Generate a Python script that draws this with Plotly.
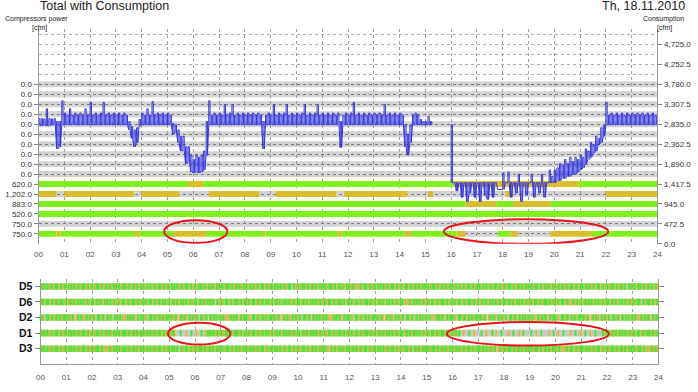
import plotly.graph_objects as go

# ---------------- data ----------------
hours = list(range(25))
hour_labels = [f"{h:02d}" for h in hours]

# top panel: compressor rows (bottom -> top), labels on left axis
row_step = 236.25
row_labels = ["750.0", "750.0", "520.0", "883.0", "1,202.0", "620.0",
              "0.0", "0.0", "0.0", "0.0", "0.0", "0.0", "0.0", "0.0", "0.0", "0.0"]
# base state of each row: G = running (green), Y = partial (yellow), - = off (gray)
row_base = ["G", "-", "G", "G", "-", "G", "-", "-", "-", "-", "-", "-", "-", "-", "-", "-"]
row1_segments = [(0.7, 0.85, "Y"), (3.7, 3.9, "Y"), (5.2, 6.5, "Y"), (8.7, 8.8, "Y"),
                 (11.6, 11.75, "Y"), (14.2, 14.45, "Y"), (16.2, 16.55, "Y"),
                 (16.55, 17.8, "-"), (18.3, 18.6, "Y"), (18.6, 19.85, "-"), (19.85, 21.45, "Y")]
row2_segments = []
row3_segments = []
row4_segments = [(16.55, 17.75, "Y"), (18.4, 19.85, "Y")]
row5_segments = [(0.0, 0.7, "Y"), (1.0, 3.7, "Y"), (4.0, 5.45, "Y"), (6.6, 8.55, "Y"),
                 (9.2, 11.55, "Y"), (11.85, 14.3, "Y"), (15.1, 15.3, "Y"), (18.1, 18.4, "Y"),
                 (22.0, 24.0, "Y")]
row6_segments = [(5.8, 6.4, "Y"), (16.1, 20.95, "Y")]
row_segments = [row1_segments, row2_segments, row3_segments, row4_segments,
                row5_segments, row6_segments] + [[] for _ in range(10)]

# right axis ticks (consumption, cfm)
right_ticks = [0, 472.5, 945, 1417.5, 1890, 2362.5, 2835, 3307.5, 3780, 4252.5, 4725]
right_labels = ["0.0", "472.5", "945.0", "1,417.5", "1,890.0", "2,362.5", "2,835.0",
                "3,307.5", "3,780.0", "4,252.5", "4,725.0"]

# consumption (cfm): max and min reading in each 0.1 h interval
consumption_high = [
    [2970, 2970, 2960, 3200, 2970, 2960, 2970, 2900, 2900, 3390],   # 00
    [3100, 3050, 3200, 3050, 3100, 3050, 3100, 3050, 3200, 3050],   # 01
    [3350, 3050, 3100, 3050, 3100, 3350, 3050, 3100, 3050, 3100],   # 02
    [3050, 3100, 3050, 3100, 3050, 2900, 2780, 2700, 2750, 2950],   # 03
    [3100, 3050, 3200, 3050, 3370, 3050, 3100, 3050, 3100, 3050],   # 04
    [3100, 3050, 2850, 2820, 2700, 2550, 2550, 2300, 2300, 2100],   # 05
    [2000, 2100, 2050, 2100, 2200, 2900, 3390, 3050, 3100, 3050],   # 06
    [3100, 3050, 3300, 3050, 3100, 3300, 3050, 3100, 3050, 3100],   # 07
    [3050, 3100, 3050, 3100, 3050, 3100, 3050, 2900, 3050, 3100],   # 08
    [3050, 3300, 3050, 3100, 3050, 3100, 3300, 3050, 3100, 3050],   # 09
    [3100, 3050, 3100, 3300, 3050, 3100, 3050, 3100, 3300, 3050],   # 10
    [3100, 3050, 3100, 3050, 3100, 3050, 3100, 2900, 3050, 3100],   # 11
    [3050, 3100, 3350, 3050, 3100, 3050, 3100, 3050, 3100, 3050],   # 12
    [3100, 3050, 3100, 3050, 3300, 3050, 3100, 3050, 3100, 3050],   # 13
    [3100, 3050, 2820, 2600, 2820, 3050, 3100, 3050, 2950, 2900],   # 14
    [2900, 3020, 2900, None, None, None, None, None, None, None],   # 15
    [2820, 1450, 1450, 1450, 1450, 1450, 1450, 1450, 1450, 1450],   # 16
    [1450, 1450, 1450, 1450, 1450, 1450, 1450, 1450, 1290, 1290],   # 17
    [1680, 1450, 1700, 1450, 1450, 1450, 1650, 1450, 1450, 1450],   # 18
    [1450, 1650, 1450, 1450, 1450, 1650, 1450, 1450, 1750, 1600],   # 19
    [1750, 1800, 1900, 1850, 2000, 1900, 2050, 1950, 2050, 2000],   # 20
    [2100, 2050, 2250, 2200, 2400, 2350, 2550, 2500, 2750, 2800],   # 21
    [3350, 3050, 3100, 3050, 3100, 3050, 3100, 3050, 3100, 3050],   # 22
    [3100, 3050, 3100, 3050, 3100, 3050, 3100, 3050, 3100, 3050],   # 23
]
consumption_low = [
    [2800, 2800, 2810, 2800, 2800, 2820, 2820, 2250, 2300, 2820],   # 00
    [2820, 2820, 2820, 2820, 2820, 2820, 2820, 2820, 2820, 2820],   # 01
    [2820, 2820, 2820, 2820, 2820, 2820, 2820, 2820, 2820, 2820],   # 02
    [2820, 2820, 2820, 2820, 2820, 2700, 2500, 2300, 2400, 2800],   # 03
    [2820, 2820, 2820, 2820, 2820, 2820, 2820, 2820, 2820, 2820],   # 04
    [2820, 2820, 2600, 2650, 2400, 2200, 2200, 1900, 1950, 1700],   # 05
    [1680, 1700, 1680, 1700, 1750, 2100, 2820, 2820, 2820, 2820],   # 06
    [2820, 2820, 2820, 2820, 2820, 2820, 2820, 2820, 2820, 2820],   # 07
    [2820, 2820, 2820, 2820, 2820, 2820, 2820, 2250, 2820, 2820],   # 08
    [2820, 2820, 2820, 2820, 2820, 2820, 2820, 2820, 2820, 2820],   # 09
    [2820, 2820, 2820, 2820, 2820, 2820, 2820, 2820, 2820, 2820],   # 10
    [2820, 2820, 2820, 2820, 2820, 2820, 2820, 2280, 2820, 2820],   # 11
    [2820, 2820, 2820, 2820, 2820, 2820, 2820, 2820, 2820, 2820],   # 12
    [2820, 2820, 2820, 2820, 2820, 2820, 2820, 2820, 2820, 2820],   # 13
    [2820, 2820, 2300, 2100, 2400, 2820, 2820, 2820, 2820, 2820],   # 14
    [2820, 2820, 2820, None, None, None, None, None, None, None],   # 15
    [1450, 1450, 1250, 1450, 1100, 1450, 1000, 1200, 1450, 1100],   # 16
    [1450, 1000, 1450, 1150, 1050, 1450, 1100, 1450, 1290, 1290],   # 17
    [1290, 1450, 1450, 1100, 1450, 1200, 1450, 1000, 1450, 1150],   # 18
    [1450, 1450, 1100, 1450, 1200, 1450, 1100, 1450, 1450, 1450],   # 19
    [1450, 1500, 1500, 1550, 1550, 1600, 1600, 1650, 1650, 1700],   # 20
    [1750, 1800, 1900, 2000, 2050, 2150, 2200, 2350, 2400, 2550],   # 21
    [2820, 2820, 2820, 2820, 2820, 2820, 2820, 2820, 2820, 2820],   # 22
    [2820, 2820, 2820, 2820, 2820, 2820, 2820, 2820, 2820, 2820],   # 23
]
consumption_end = 3100

# bottom panel: compressor state per 3-minute slot (20 per hour)
unit_names = ["D3", "D1", "D2", "D6", "D5"]   # bottom -> top
d5_states = ["GYYGYGYYGYYGYGYYGYYG", "YGYYGYGYYGYYGYGYYGYY", "GYYGYGYYGYYGYGYYGYYG", "YGYYGYGYYGY-GYGYYGYY",
             "GYYGYGYYGYYGYGYYGYYG", "YGYYGYGYYGYYGYGYYGYY", "GYYGYGY-GYYGYGYYGYYG", "YGYYGYGYYGYYGYGYYGYY",
             "GYYGYGYYGYYGYGYYGYYG", "YGYYGYGYYGYYGYG-YGYY", "GYYGYGYYGYYGYGYYGYYG", "YGYYGYGYYGYYGYGYYGYY",
             "GYYGY-YYGYYGYGYYGYYG", "YGYYGYGYYGYYGYGYYGYY", "GYYGYGYYGYYGYGYYGYYG", "YGYYGYGYYGYYGYGYYGYY",
             "GYYGYGYYGYYG-GYYGYYG", "YGYYGYGYYGYYGYGYYGYY", "GYYGYGYYGYYGYGYYGYYG", "YGYYGYG-YGYYGYGYYGYY",
             "GYYGYGYYGYYGYGYYGYYG", "YGYYGYGYYGYYGYGYYGYY", "GYYGYGYYGYYGYGY-GYYG", "YGYYGYGYYGYYGYGYYGYY"]
d6_states = ["YGYYGYGYYGYYGYGYYGYY", "GYYGYGYYGY-GYGYYGYYG", "YGYYGYGYYGYYGYGYYGYY", "GYYGYGYYGYYGYGYYGYYG",
             "YGYYG-GYYGYYGYGYYGYY", "GYYGYGYYGYYGYGYYGYYG", "YGYYGYGYYGYYGYG-YGYY", "GYYGYGYYGYYGYGYYGYYG",
             "YGYYGYGYYGYYGYGYYGYY", "GYYGYG-YGYYGYGYYGYYG", "YGYYGYGYYGYYGYGYYGYY", "GYYGYGYYGYYGYGYYG-YG",
             "YGYYGYGYYGYYGYGYYGYY", "GYYGYGYYGYYGYGYYGYYG", "YGYY-YGYYGYYGYGYYGYY", "GYYGYGYYGYYGYGYYGYYG",
             "YGYYGYGYYGYYGYGYYGYY", "GYYGYGYYG-YGYGYYGYYG", "YGYYGYGYYGYYGYGYYGYY", "GYYGYGYYGYYGYGYYGYYG",
             "YGYYGYGYYGYY-YGYYGYY", "GYYGYGYYGYYGYGYYGYYG", "YGYYGYGYYGYYGYGYYGYY", "GYYGYG-YGYYGYGYYGYYG"]
d2_states = ["GYY-GYGYYGY-GYGYYGYG", "YGYYGY-YYGYGYY-GYGYY", "GY-GYGYYG-YGYGY-GYYG", "YGYY-YGYYGYGY-YGYGY",
             "GYY-GYGYYGY-GYGYYGYG", "YGYYGY-YYGYGYY-GYGYY", "GY-GYGYYG-YGYGY-GYYG", "YGYY-YGYYGYGY-YGYGY",
             "GYY-GYGYYGY-GYGYYGYG", "YGYYGY-YYGYGYY-GYGYY", "GY-GYGYYG-YGYGY-GYYG", "YGYY-YGYYGYGY-YGYGY",
             "GYY-GYGYYGY-GYGYYGYG", "YGYYGY-YYGYGYY-GYGYY", "GY-GYGYYG-YGYGY-GYYG", "YGYY-YGYYGYGY-YGYGY",
             "GYY-GYGYYGY-GYGYYGYG", "YGYYGY-YYGYGYY-GYGYY", "GY-GYGYYG-YGYGY-GYYG", "YGYY-YGYYGYGY-YGYGY",
             "GYY-GYGYYGY-GYGYYGYG", "YGYYGY-YYGYGYY-GYGYY", "GY-GYGYYG-YGYGY-GYYG", "YGYY-YGYYGYGY-YGYGY"]
d1_states = ["GYYGYGYYGYYGYGYYGYYG", "YGYYGYGYYGYYGYGYYGYY", "GYYGYGYYGYYGYGYYGYYG", "YGYYGYGYYGYYGYGYYGYY",
             "GYYGYGYYGYYGYGYYGYYG", "GYYGY---G----Y---G--", "-Y---G--YGYYGYGYYGYY", "GYYGYGYYGYYGYGYYGYYG",
             "YGYYGYGYYGYYGYGYYGYY", "GYYGYGYYGYYGYGYYGYYG", "YGYYGYGYYGYYGYGYYGYY", "GYYGYGYYGYYGYGYYGYYG",
             "YGYYGYGYYGYYGYGYYGYY", "GYYGYGYYGYYGYGYYGYYG", "YGYYGYGYYGYYGYGYYGYY", "GYYGYGYYGYYGYGYYGYYG",
             "GYYGYG--Y----G---Y--", "--G---Y----G--Y---G-", "---Y---G----Y--G----", "-G---Y---G-----Y--G-",
             "--Y---G----Y---G---Y", "---G---Y---G----GYYG", "YGYYGYGYYGYYGYGYYGYY", "GYYGYGYYGYYGYGYYGYYG"]
d3_states = ["GYYGYGYYGYYGYGYYGYYG", "YGYYGYGYYGYYGYGYYGYY", "GYYGYGYYGYY-YGYYGYYG", "YGYYGYGYYGYYGYGYYGYY",
             "GYYGYGYYGYYGYGYYGYYG", "YGYYGYG-YGYYGYGYYGYY", "GYYGYGYYGYYGYGYYGYYG", "YGYYGYGYYGYYGYGYYGYY",
             "GYYGYGYYGYYGYGY-GYYG", "YGYYGYGYYGYYGYGYYGYY", "GYYGYGYYGYYGYGYYGYYG", "YGYY-YGYYGYYGYGYYGYY",
             "GYYGYGYYGYYGYGYYGYYG", "YGYYGYGYYGYYGYGYYGYY", "GYYGYGYYG-YGYGYYGYYG", "YGYYGYGYYGYYGYGYYGYY",
             "GYYGYGYYGYYGYGYYGYYG", "YGYYGYGYYGYYGY-YYGYY", "GYYGYGYYGYYGYGYYGYYG", "YGYYGYGYYGYYGYGYYGYY",
             "GYYGY-YYGYYGYGYYGYYG", "YGYYGYGYYGYYGYGYYGYY", "GYYGYGYYGYYGYGYYGYYG", "YGYYGYGYYGYY-YGYYGYY"]
unit_states = [d3_states, d1_states, d2_states, d6_states, d5_states]

# red highlight ellipses: (x0, x1, y0, y1) in data units of each panel
top_highlights = [(4.87, 7.32, 20, 560), (15.72, 22.09, 0, 585)]
bottom_highlights = [(4.95, 7.37, 0.27, 1.66), (15.78, 22.08, 0.20, 1.72)]

# ---------------- styles ----------------
TOP_COL = {"G": "#80f01c", "Y": "#d8be2c", "-": "rgba(150,150,150,0.42)"}
BOT_COL = {"G": "#3ee83e", "Y": "#e0b43c", "-": "#c8c8c8"}
LINE_BLUE = "#3535e0"


def flatten(base, segs):
    ivs = [(0.0, 24.0, base)]
    for s, e, st in segs:
        new = []
        for a, b, c in ivs:
            if b <= s or a >= e:
                new.append((a, b, c))
            else:
                if a < s:
                    new.append((a, s, c))
                if b > e:
                    new.append((e, b, c))
        new.append((s, e, st))
        ivs = sorted(new)
    return ivs


fig = go.Figure()

# ---- top panel bands
top_bars = {k: {"y": [], "base": [], "x": []} for k in TOP_COL}
for i, (base, segs) in enumerate(zip(row_base, row_segments)):
    level = row_step * (i + 1)
    for a, b, c in flatten(base, segs):
        top_bars[c]["y"].append(level)
        top_bars[c]["base"].append(a)
        top_bars[c]["x"].append(b - a)
for c in ["-", "G", "Y"]:
    d = top_bars[c]
    fig.add_trace(go.Bar(orientation="h", y=d["y"], x=d["x"], base=d["base"], width=140,
                         marker=dict(color=TOP_COL[c], line=dict(width=0)),
                         xaxis="x", yaxis="y", hoverinfo="skip", showlegend=False))

# ---- consumption line (right axis): min/max strokes within each 0.1 h interval
t_vals, c_vals = [], []
for h, (his, los) in enumerate(zip(consumption_high, consumption_low)):
    for j, (hi, lo) in enumerate(zip(his, los)):
        t = h + j / 10
        if hi is None:
            t_vals.append(None)
            c_vals.append(None)
            continue
        t_vals += [t, t, t + 0.05, t + 0.05]
        c_vals += [lo, hi, hi, lo]
t_vals.append(24.0)
c_vals.append(consumption_end)
fig.add_trace(go.Scatter(x=t_vals, y=c_vals, mode="lines", line=dict(color=LINE_BLUE, width=1),
                         connectgaps=False, xaxis="x", yaxis="y2", hoverinfo="skip", showlegend=False))

# ---- bottom panel stripes
bot_bars = {k: {"y": [], "base": [], "x": []} for k in BOT_COL}
for r, hourly in enumerate(unit_states):
    s = "".join(hourly)
    n = len(s)
    i = 0
    while i < n:
        j = i
        while j < n and s[j] == s[i]:
            j += 1
        bot_bars[s[i]]["y"].append(r)
        bot_bars[s[i]]["base"].append(i * 24 / n)
        bot_bars[s[i]]["x"].append((j - i) * 24 / n)
        i = j
for c in ["-", "Y", "G"]:
    d = bot_bars[c]
    fig.add_trace(go.Bar(orientation="h", y=d["y"], x=d["x"], base=d["base"], width=0.42,
                         marker=dict(color=BOT_COL[c], line=dict(width=0)),
                         xaxis="x2", yaxis="y3", hoverinfo="skip", showlegend=False))

# ---- ellipses
shapes = []
for x0, x1, y0, y1 in top_highlights:
    shapes.append(dict(type="circle", xref="x", yref="y", x0=x0, x1=x1, y0=y0, y1=y1,
                       line=dict(color="#e8141c", width=2)))
for x0, x1, y0, y1 in bottom_highlights:
    shapes.append(dict(type="circle", xref="x2", yref="y3", x0=x0, x1=x1, y0=y0, y1=y1,
                       line=dict(color="#e8141c", width=2)))

W, H = 698, 392
FONT = "Liberation Sans, Arial, sans-serif"


def ann(text, px, py, size, anchor="center", color="#222"):
    return dict(text=text, x=px / W, y=1 - py / H, xref="paper", yref="paper", showarrow=False,
                xanchor=anchor, yanchor="middle", borderpad=0,
                font=dict(size=size, color=color, family=FONT))


annotations = [
    ann("Total with Consumption", 35, 6.5, 12.5, "left"),
    ann("Th, 18.11.2010", 691, 6.5, 12.5, "right"),
    ann("Compressors power", 33, 19, 7),
    ann("[cfm]", 36, 28, 7),
    ann("Consumption", 668, 19, 7),
    ann("[cfm]", 669, 28, 7),
]

fig.update_layout(
    width=W, height=H, autosize=False, margin=dict(l=0, r=0, t=0, b=0),
    plot_bgcolor="white", paper_bgcolor="white", barmode="overlay", showlegend=False,
    font=dict(family=FONT, size=8, color="#333"),
    shapes=shapes, annotations=annotations,
    xaxis=dict(domain=[35 / W, 662 / W], anchor="y", range=[0, 24], tickmode="array",
               tickvals=hours, ticktext=hour_labels, showgrid=True, gridcolor="#a0a0a0",
               griddash="dot", gridwidth=1, zeroline=False, showline=False, ticks="",
               ticklabelstandoff=4, tickfont=dict(size=8, color="#555")),
    yaxis=dict(domain=[1 - 247 / H, 1 - 29 / H], anchor="x", range=[0, 5100], tickmode="array",
               tickvals=[row_step * (i + 1) for i in range(len(row_labels))], ticktext=row_labels,
               ticks="outside", ticklen=4, tickcolor="#888", showline=True, linecolor="#999",
               showgrid=True, gridcolor="#6a6a6a", griddash="dot", zeroline=False,
               minor=dict(tick0=row_step, dtick=row_step, showgrid=True, gridcolor="#b0b0b0",
                          griddash="dot", ticks=""),
               tickfont=dict(size=8, color="#333")),
    yaxis2=dict(overlaying="y", side="right", anchor="x", range=[0, 5100], tickmode="array",
                tickvals=right_ticks, ticktext=right_labels, ticks="outside", ticklen=4,
                tickcolor="#888", showline=True, linecolor="#999", showgrid=False, zeroline=False,
                tickfont=dict(size=8, color="#333")),
    xaxis2=dict(domain=[37 / W, 663 / W], anchor="y3", range=[0, 24], tickmode="array",
                tickvals=hours, ticktext=hour_labels, showgrid=True, gridcolor="#a0a0a0",
                griddash="dot", zeroline=False, showline=True, linecolor="#999", ticks="",
                ticklabelstandoff=5, tickfont=dict(size=8, color="#555")),
    yaxis3=dict(domain=[1 - 369 / H, 1 - 283 / H], anchor="x2", range=[-1, 4.45], tickmode="array",
                tickvals=list(range(len(unit_names))), ticktext=[f"<b>{u}</b>" for u in unit_names],
                ticks="outside", ticklen=5, tickcolor="#888", showline=True, linecolor="#999",
                mirror="ticks", showgrid=False, zeroline=False,
                tickfont=dict(size=10.5, color="#111")),
)

fig.write_html("out.html")
